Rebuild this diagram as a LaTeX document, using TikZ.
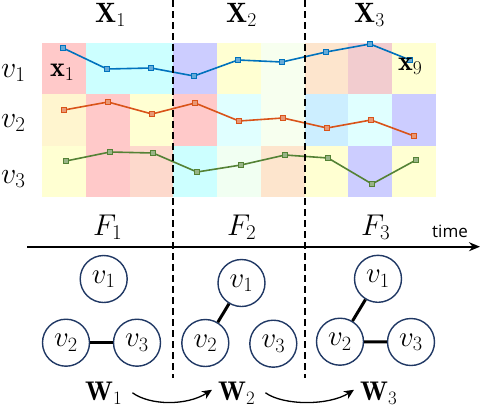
\RequirePackage{fix-cm}
\documentclass[tikz,border=0pt]{standalone}
\usepackage{fontspec}
\newfontfamily\timefont{Open Sans}
\usetikzlibrary{arrows.meta}
\definecolor{cpink}{HTML}{FFC9C9}
\definecolor{ccyan}{HTML}{CCFFFF}
\definecolor{clav}{HTML}{CCCDFF}
\definecolor{cyel}{HTML}{FFFFD2}
\definecolor{cmint}{HTML}{F7FFEF}
\definecolor{cpeach}{HTML}{FDE5CD}
\definecolor{crose}{HTML}{F2CCCF}
\definecolor{ccream}{HTML}{FFF5CF}
\definecolor{clcyan}{HTML}{E0FFFF}
\definecolor{cblue}{HTML}{CCEEFF}
\definecolor{csalmon}{HTML}{FDD9CC}
\definecolor{cmint2}{HTML}{F1FFF2}
\definecolor{lblue}{HTML}{0072BD}
\definecolor{lred}{HTML}{D95319}
\definecolor{lgreen}{HTML}{548235}
\definecolor{navy}{HTML}{203864}
\tikzset{
  lbl/.style={anchor=base west, inner sep=0pt, font=\fontsize{30}{34}\selectfont},
  blbl/.style={anchor=base west, inner sep=0pt, font=\fontsize{28}{32}\selectfont},
  wlbl/.style={anchor=base west, inner sep=0pt, font=\fontsize{27}{30}\selectfont},
  gnode/.style={circle, draw=navy, line width=1.4pt, minimum size=47pt, inner sep=0pt, font=\fontsize{29}{32}\selectfont},
  gedge/.style={line width=3pt, black},
  dashline/.style={line width=2pt, dash pattern=on 7pt off 4pt},
  series/.style={line width=1.6pt},
  warrow/.style={line width=1.3pt, -{Stealth[length=10pt,width=9pt]}},
}
\newcommand{\sqmarks}[2]{%
  \foreach \px/\py in {#2}
    \filldraw[draw=#1, fill=#1!60!white, line width=0.9pt] ({\px-2.4},{\py-2.4}) rectangle ({\px+2.4},{\py+2.4});}
\begin{document}
\begin{tikzpicture}[x=1pt,y=-1pt]
\useasboundingbox (0,0) rectangle (480,408);
% grid cells
\foreach [count=\i from 0] \cc in {cpink,ccyan,ccyan,clav,cyel,cmint,cpeach,crose,cyel}
  \fill[\cc] ({42+\i*43.78},43) rectangle ({42+(\i+1)*43.78},94.3);
\foreach [count=\i from 0] \cc in {ccream,cpink,cyel,cpink,clcyan,cmint,cblue,clcyan,clav}
  \fill[\cc] ({42+\i*43.78},94.3) rectangle ({42+(\i+1)*43.78},145.7);
\foreach [count=\i from 0] \cc in {cyel,cpink,csalmon,ccyan,cmint2,cpeach,cyel,clav,cyel}
  \fill[\cc] ({42+\i*43.78},145.7) rectangle ({42+(\i+1)*43.78},197);
% series
\draw[series, lblue] plot coordinates {(63,48) (107,69) (151,68) (194,76) (238,60) (282,62) (326,52) (370,44) (410,60)};
\sqmarks{lblue}{63/48,107/69,151/68,194/76,238/60,282/62,326/52,370/44,410/60}
\draw[series, lred] plot coordinates {(64,110) (108,102) (152,114) (195,103) (239,121) (283,118) (327,128) (371,120) (414,136)};
\sqmarks{lred}{64/110,108/102,152/114,195/103,239/121,283/118,327/128,371/120,414/136}
\draw[series, lgreen] plot coordinates {(66,161) (110,152) (153,153) (197,172) (241,165) (285,155) (328,158) (372,184) (416,160)};
\sqmarks{lgreen}{66/161,110/152,153/153,197/172,241/165,285/155,328/158,372/184,416/160}
% dashed separators
\coordinate (d1t) at (173,0); \coordinate (d1b) at (173,378);
\coordinate (d2t) at (305,0); \coordinate (d2b) at (305,378);
\draw[dashline] (d1t) -- (d1b);
\draw[dashline] (d2t) -- (d2b);
% top labels
\node[blbl] (X1) at (95,22.7) {$\mathbf{X}_1$};
\node[blbl] (X2) at (226,22.7) {$\mathbf{X}_2$};
\node[blbl] (X3) at (354,22.7) {$\mathbf{X}_3$};
\node[lbl] (V1) at (1,77) {$v_1$};
\node[lbl] (V2) at (1,127) {$v_2$};
\node[lbl] (V3) at (1,183) {$v_3$};
\node[blbl] (x1) at (50,76) {$\mathbf{x}_1$};
\node[blbl] (x9) at (398,70.5) {$\mathbf{x}_9$};
% F labels and axis
\node[lbl] (F1) at (93,235) {$F_1$};
\node[lbl] (F2) at (227,235) {$F_2$};
\node[lbl] (F3) at (361,235) {$F_3$};
\coordinate (ax0) at (27,246.7);
\coordinate (ax1) at (480,246.7);
\draw[line width=1.6pt, -{Stealth[length=11pt,width=9pt]}] (ax0) -- (ax1);
\node[anchor=base west, inner sep=0pt, font=\timefont\fontsize{17}{19}\selectfont] (time) at (432,237.5) {time};
% graphs
\node[gnode] (a1) at (103.7,279) {$v_1$};
\node[gnode] (a2) at (66,342.7) {$v_2$};
\node[gnode] (a3) at (137,342.7) {$v_3$};
\draw[gedge] (a2) -- (a3);
\node[gnode] (b1) at (241.5,283) {$v_1$};
\node[gnode] (b2) at (205.3,343) {$v_2$};
\node[gnode] (b3) at (273.3,343.7) {$v_3$};
\draw[gedge] (b1) -- (b2);
\node[gnode] (c1) at (378,278.8) {$v_1$};
\node[gnode] (c2) at (340,341.7) {$v_2$};
\node[gnode] (c3) at (411,342) {$v_3$};
\draw[gedge] (c1) -- (c2);
\draw[gedge] (c2) -- (c3);
% W labels
\node[wlbl] (W1) at (85,400) {$\mathbf{W}_1$};
\node[wlbl] (W2) at (218,400) {$\mathbf{W}_2$};
\node[wlbl] (W3) at (360,400) {$\mathbf{W}_3$};
\draw[warrow] ([xshift=10pt,yshift=0pt]W1.east) .. controls +(18,13) and +(-25,16) .. ([xshift=-6pt,yshift=3pt]W2.west);
\draw[warrow] ([xshift=10pt,yshift=0pt]W2.east) .. controls +(18,13) and +(-25,16) .. ([xshift=-6pt,yshift=3pt]W3.west);
\end{tikzpicture}
\end{document}
